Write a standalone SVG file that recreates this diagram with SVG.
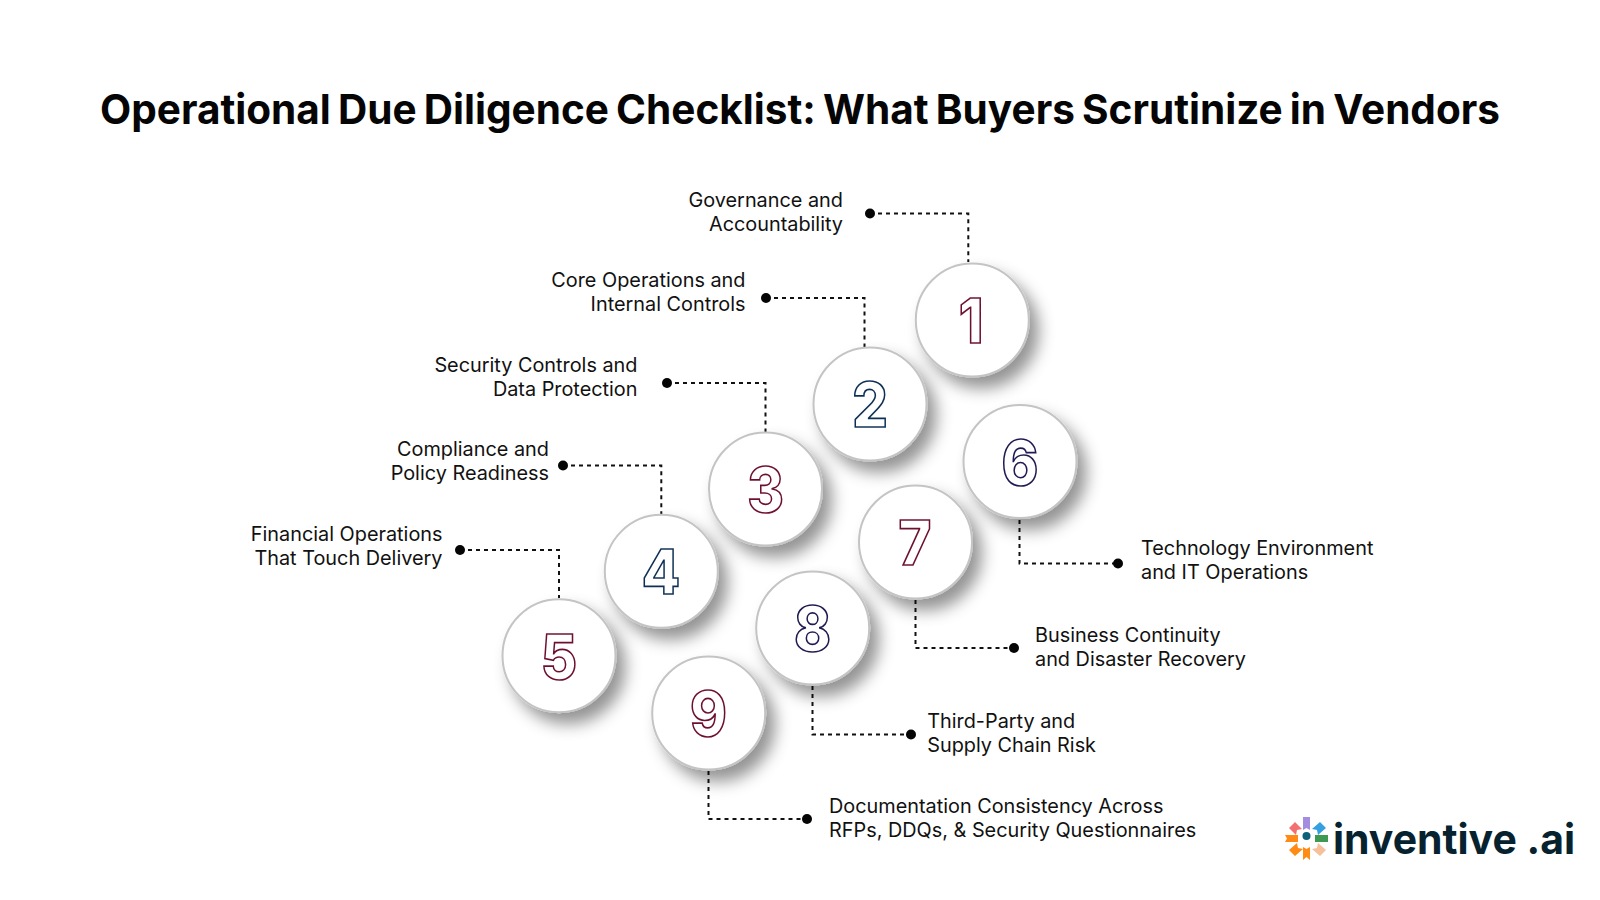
<svg xmlns="http://www.w3.org/2000/svg" width="1600" height="900" viewBox="0 0 1600 900">
<style>
.t{font-family:"Inter","Liberation Sans",sans-serif;font-size:19.85px;fill:#111;letter-spacing:0}
.r{text-anchor:end}
.title{font-family:"Inter","Liberation Sans",sans-serif;font-size:41px;font-weight:700;fill:#050505;word-spacing:-2.500px}
.c{fill:#fff;stroke:#c4c4c4;stroke-width:2;filter:url(#sh)}
.n{font-family:"Inter","Liberation Sans",sans-serif;font-size:62px;font-weight:800;text-anchor:middle;fill:#fff;stroke-width:1.700}
.m{stroke:#6d0f2f}.b{stroke:#0e2f55}.p{stroke:#1f1a52}
.l{fill:none;stroke:#111;stroke-width:2;stroke-dasharray:4 4}
.d{fill:#050505}
</style>
<defs><filter id="sh" x="-40%" y="-40%" width="200%" height="200%"><feDropShadow dx="9" dy="11" stdDeviation="8" flood-color="#000" flood-opacity=".42"/></filter></defs>
<rect width="1600" height="900" fill="#fff"/>
<text class="title" x="100" y="124" textLength="1400" lengthAdjust="spacingAndGlyphs">Operational Due Diligence Checklist: What Buyers Scrutinize in Vendors</text>
<g id="connectors">
<path class="l" d="M870 213.500H968.300V262"/><circle class="d" cx="870" cy="213.500" r="5"/>
<path class="l" d="M766 298H864.500V347"/><circle class="d" cx="766" cy="298" r="5"/>
<path class="l" d="M667 383H765.500V432"/><circle class="d" cx="667" cy="383" r="5"/>
<path class="l" d="M563 465.500H661.300V514"/><circle class="d" cx="563" cy="465.500" r="5"/>
<path class="l" d="M460 550H559V598"/><circle class="d" cx="460" cy="550" r="5"/>
<path class="l" d="M1019.500 520V563.500H1118"/><circle class="d" cx="1118" cy="563.500" r="5"/>
<path class="l" d="M915.500 600V648H1014"/><circle class="d" cx="1014" cy="648" r="5"/>
<path class="l" d="M812.500 686V734.500H911"/><circle class="d" cx="911" cy="734.500" r="5"/>
<path class="l" d="M708.500 771V819H807"/><circle class="d" cx="807" cy="819" r="5"/>
</g>
<g id="node1"><circle class="c" cx="972.300" cy="320" r="56.500"/><text class="n m" transform="translate(971 343) scale(.9 1)">1</text><text class="t r" x="843" y="207">Governance and</text><text class="t r" x="843" y="231">Accountability</text></g>
<g id="node2"><circle class="c" cx="870" cy="404" r="56.500"/><text class="n b" transform="translate(870 427) scale(.9 1)">2</text><text class="t r" x="745.500" y="287.300">Core Operations and</text><text class="t r" x="745.500" y="311.300">Internal Controls</text></g>
<g id="node3"><circle class="c" cx="765.500" cy="489" r="56.500"/><text class="n m" transform="translate(765.500 512) scale(.9 1)">3</text><text class="t r" x="637.500" y="372.300">Security Controls and</text><text class="t r" x="637.500" y="396.300">Data Protection</text></g>
<g id="node4"><circle class="c" cx="661.300" cy="571.300" r="56.500"/><text class="n b" transform="translate(661 594) scale(.9 1)">4</text><text class="t r" x="549" y="456">Compliance and</text><text class="t r" x="549" y="480">Policy Readiness</text></g>
<g id="node5"><circle class="c" cx="559" cy="655.700" r="56.500"/><text class="n m" transform="translate(559 679) scale(.9 1)">5</text><text class="t r" x="442.500" y="541.300">Financial Operations</text><text class="t r" x="442.500" y="565.300">That Touch Delivery</text></g>
<g id="node6"><circle class="c" cx="1020" cy="461.500" r="56.500"/><text class="n p" transform="translate(1020 484.500) scale(.9 1)">6</text><text class="t" x="1141" y="555">Technology Environment</text><text class="t" x="1141" y="579">and IT Operations</text></g>
<g id="node7"><circle class="c" cx="915.500" cy="542" r="56.500"/><text class="n m" transform="translate(915 565) scale(.9 1)">7</text><text class="t" x="1035" y="642.200">Business Continuity</text><text class="t" x="1035" y="666.200">and Disaster Recovery</text></g>
<g id="node8"><circle class="c" cx="812.700" cy="628" r="56.500"/><text class="n p" transform="translate(812.500 651) scale(.9 1)">8</text><text class="t" x="927.200" y="728.200">Third-Party and</text><text class="t" x="927.200" y="752.200">Supply Chain Risk</text></g>
<g id="node9"><circle class="c" cx="708.700" cy="713" r="56.500"/><text class="n m" transform="translate(708.500 736) scale(.9 1)">9</text><text class="t" x="829" y="813">Documentation Consistency Across</text><text class="t" x="829" y="837">RFPs, DDQs, &amp; Security Questionnaires</text></g>
<g id="logo">
<path fill="#f2706f" d="M1289 828l6-6 7 7-5 1-1 5z"/>
<path fill="#a48de0" d="M1303 817h7v13l-3.500-2-3.500 2z"/>
<path fill="#35a0e0" d="M1320 822l6 6-8 7-1-5-5-1z"/>
<path fill="#ff8a14" d="M1285 835h13v7h-13l2-3.500z"/>
<path fill="#3d9a50" d="M1315 835h13v7h-13z"/>
<path fill="#ff8a14" d="M1295 856l-6-6 8-7 1 5 5 1z"/>
<path fill="#ff8a14" d="M1303 847l3.500 2 3.500-2v13l-3.500-3-3.500 3z"/>
<path fill="#f6c09a" d="M1312 849l5-1 1-5 8 7-6 6z"/>
<circle cx="1306.500" cy="836" r="4" fill="#0e5f7a"/>
<text x="1333" y="854" font-family="Inter,'Open Sans',sans-serif" font-size="42" font-weight="700" fill="#06222f" textLength="242" lengthAdjust="spacingAndGlyphs">inventive .ai</text>
</g>
</svg>
